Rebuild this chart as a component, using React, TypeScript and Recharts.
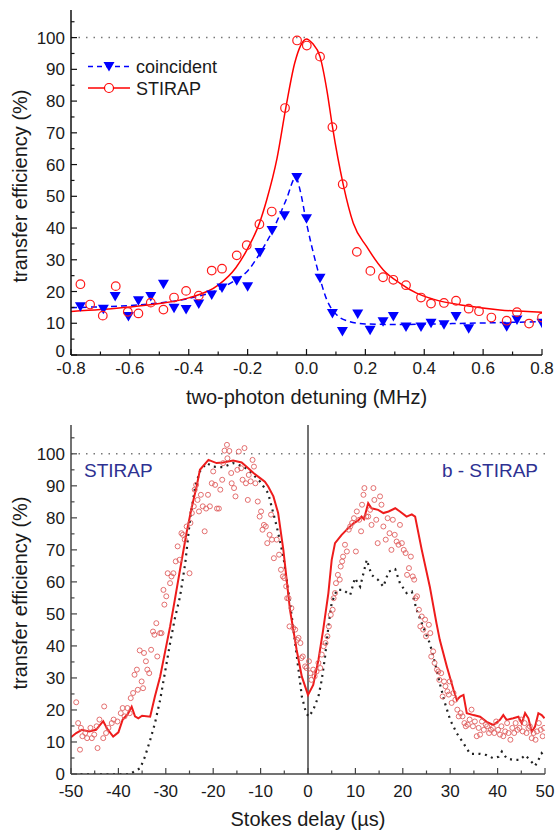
import React from "react";
import { ComposedChart, Line, Scatter, XAxis, YAxis, ReferenceLine, Legend } from "recharts";

const FONT = "'Liberation Sans', Arial, Helvetica, sans-serif";

// ---- top panel: transfer efficiency vs two-photon detuning (MHz)
const detuningTicks = [-0.8, -0.7, -0.6, -0.5, -0.4, -0.3, -0.2, -0.1, 0, 0.1, 0.2, 0.3, 0.4, 0.5, 0.6, 0.7, 0.8];
const efficiencyTicks = [0, 5, 10, 15, 20, 25, 30, 35, 40, 45, 50, 55, 60, 65, 70, 75, 80, 85, 90, 95, 100, 105];

const stirapPoints = [
  [-0.768, 22.3], [-0.735, 15.9], [-0.692, 12.4], [-0.648, 21.7], [-0.607, 13.6], [-0.571, 13.1],
  [-0.529, 16.5], [-0.486, 14.3], [-0.45, 18.1], [-0.409, 20.2], [-0.366, 18.7], [-0.322, 26.6],
  [-0.287, 27.2], [-0.237, 31.4], [-0.203, 34.6], [-0.16, 41.2], [-0.118, 45.2], [-0.073, 77.8],
  [-0.032, 99.1], [0.001, 97.5], [0.046, 94.0], [0.088, 71.8], [0.123, 53.8], [0.171, 32.5],
  [0.217, 26.5], [0.26, 24.5], [0.295, 23.7], [0.338, 22.0], [0.389, 18.1], [0.423, 16.2],
  [0.467, 16.4], [0.508, 17.1], [0.551, 14.6], [0.586, 13.8], [0.628, 11.8], [0.68, 10.8],
  [0.715, 13.5], [0.756, 9.9], [0.8, 11.8],
];

const coincidentPoints = [
  [-0.768, 15.2], [-0.69, 14.4], [-0.65, 18.4], [-0.605, 12.1], [-0.571, 17.1], [-0.529, 18.4],
  [-0.486, 22.3], [-0.45, 14.7], [-0.409, 14.3], [-0.366, 16.1], [-0.322, 18.9], [-0.287, 21.1],
  [-0.237, 23.4], [-0.2, 21.5], [-0.158, 32.3], [-0.117, 39.2], [-0.075, 43.9], [-0.033, 55.9],
  [0.0, 42.9], [0.046, 24.2], [0.088, 13.1], [0.122, 7.4], [0.174, 12.9], [0.216, 7.8],
  [0.26, 10.5], [0.295, 12.1], [0.338, 8.8], [0.389, 8.8], [0.423, 10.0], [0.467, 9.5],
  [0.508, 12.1], [0.551, 8.3], [0.68, 8.9], [0.715, 11.0], [0.8, 10.0],
];

const stirapFit = [
  [-0.8, 13.7], [-0.7, 14.3], [-0.6, 15.1], [-0.5, 16.2], [-0.4, 18.0], [-0.3, 22.0], [-0.24, 27.5],
  [-0.2, 33.5], [-0.16, 41.5], [-0.135, 48.9], [-0.1, 62], [-0.07, 78], [-0.04, 92], [-0.02, 97.5],
  [0, 99.6], [0.02, 98.2], [0.046, 94], [0.07, 83], [0.088, 72], [0.125, 53.6], [0.159, 41.5],
  [0.204, 34.2], [0.261, 26.8], [0.318, 22.6], [0.374, 19.5], [0.43, 17.6], [0.544, 15.5],
  [0.657, 14.2], [0.8, 13.5],
];

const coincidentFit = [
  [-0.8, 14.9], [-0.7, 15.2], [-0.6, 15.6], [-0.5, 16.4], [-0.4, 17.8], [-0.3, 20.6], [-0.24, 23.7],
  [-0.2, 26.5], [-0.16, 31.8], [-0.114, 39.4], [-0.069, 48.9], [-0.036, 56], [-0.022, 52], [0, 41.6],
  [0.035, 27.9], [0.069, 17.4], [0.103, 12.6], [0.148, 10.5], [0.2, 9.8], [0.3, 9.6], [0.4, 9.7],
  [0.5, 9.9], [0.6, 10.1], [0.7, 10.3], [0.8, 10.5],
];

// ---- bottom panel: transfer efficiency vs Stokes delay (µs)
const delayTicks = [-50, -45, -40, -35, -30, -25, -20, -15, -10, -5, 0, 5, 10, 15, 20, 25, 30, 35, 40, 45, 50];

const measuredPoints = [
  [-48.9, 22.4], [-48.5, 15.9], [-48.1, 7.6], [-47.9, 14.4], [-47.6, 11.8], [-47.0, 12.8], [-46.6, 11.2],
  [-45.9, 14.4], [-45.6, 11.2], [-45.1, 12.3], [-44.6, 14.9], [-44.4, 8.1], [-44.0, 17.0], [-43.2, 11.2],
  [-43.0, 21.1], [-42.6, 12.8], [-42.1, 14.4], [-41.4, 15.9], [-41.0, 17.0], [-40.2, 16.4], [-39.5, 19.0],
  [-39.1, 20.6], [-38.7, 18.0], [-38.1, 20.6], [-37.6, 19.0], [-37.4, 23.7], [-36.9, 25.3], [-36.6, 31.0],
  [-36.1, 32.6], [-35.9, 26.3], [-35.5, 38.6], [-35.1, 28.9], [-34.8, 26.8], [-34.6, 37.8], [-34.2, 35.2],
  [-33.9, 32.6], [-33.5, 31.5], [-33.1, 38.8], [-32.7, 44.5], [-32.4, 43.5], [-32.0, 47.1], [-31.8, 36.7],
  [-31.2, 44.0], [-30.9, 44.0], [-30.5, 57.5], [-30.3, 52.9], [-29.9, 55.5], [-29.6, 62.7], [-29.1, 59.6],
  [-28.8, 61.7], [-28.4, 62.7], [-27.9, 66.4], [-27.5, 71.1], [-27.1, 66.9], [-26.7, 75.2], [-26.4, 74.7],
  [-26.0, 73.2], [-25.6, 77.3], [-25.0, 62.7], [-24.8, 78.4], [-24.5, 81.5], [-24.1, 83.6], [-23.9, 88.8],
  [-23.6, 90.3], [-23.3, 85.6], [-23.0, 82.0], [-22.6, 87.2], [-22.2, 83.6], [-21.8, 75.8], [-21.5, 82.9],
  [-21.1, 87.2], [-20.7, 83.6], [-20.3, 90.8], [-20.0, 94.5], [-19.6, 90.3], [-19.2, 82.9], [-18.8, 82.9],
  [-18.5, 88.8], [-18.1, 91.9], [-17.9, 97.1], [-17.6, 101.0], [-17.1, 102.8], [-17.0, 98.6], [-16.6, 100.9],
  [-16.2, 94.0], [-16.1, 90.8], [-15.6, 89.3], [-15.3, 86.7], [-14.9, 95.0], [-14.6, 100.7], [-14.1, 95.5],
  [-13.8, 91.9], [-13.4, 101.8], [-13.1, 90.8], [-12.7, 85.6], [-12.5, 93.4], [-12.1, 91.4], [-11.7, 98.1],
  [-11.4, 96.0], [-11.1, 90.8], [-10.6, 85.1], [-10.2, 80.4], [-9.9, 82.0], [-9.6, 76.3], [-9.3, 77.8],
  [-8.9, 77.3], [-8.6, 72.1], [-8.1, 74.7], [-7.8, 81.0], [-7.6, 73.2], [-7.2, 67.4], [-6.6, 73.2],
  [-6.1, 68.5], [-5.7, 63.8], [-5.3, 61.7], [-5.0, 61.2], [-4.6, 58.6], [-4.4, 54.9], [-4.1, 54.9],
  [-3.9, 46.1], [-3.5, 51.8], [-3.1, 45.6], [-2.7, 45.1], [-2.3, 41.9], [-2.0, 42.5], [-1.6, 40.9],
  [-1.4, 36.2], [-1.1, 36.7], [-0.6, 33.6], [-0.3, 33.1], [0.2, 35.2], [0.5, 31.5], [0.7, 29.4],
  [1.1, 32.6], [1.4, 30.5], [1.8, 32.0], [2.2, 34.7], [2.6, 33.1], [2.9, 37.3], [3.3, 39.9],
  [3.7, 40.9], [4.1, 43.0], [4.4, 46.1], [4.8, 49.7], [5.2, 51.3], [5.4, 54.9], [5.7, 56.5],
  [5.9, 59.6], [6.3, 62.2], [6.7, 60.7], [6.9, 64.8], [7.2, 66.4], [7.4, 67.9], [7.8, 71.6],
  [8.2, 69.5], [8.6, 76.3], [8.9, 77.3], [9.3, 78.4], [9.7, 79.9], [10.1, 69.5], [10.3, 82.0],
  [10.8, 79.4], [11.2, 75.8], [11.4, 84.1], [11.7, 87.2], [11.9, 89.3], [12.3, 80.4], [12.7, 80.4],
  [13.1, 82.5], [13.4, 77.8], [13.8, 89.3], [14.0, 85.6], [14.4, 79.4], [14.7, 72.1], [15.2, 86.7],
  [15.5, 84.1], [15.9, 77.3], [16.4, 73.2], [16.8, 79.9], [17.2, 75.2], [17.6, 70.0], [17.9, 79.4],
  [18.3, 74.7], [18.7, 72.6], [19.1, 71.6], [19.4, 77.8], [19.8, 72.1], [20.2, 70.0], [20.6, 69.0],
  [20.9, 62.2], [21.3, 64.3], [21.7, 67.9], [22.1, 61.7], [22.4, 60.7], [22.7, 54.9], [23.0, 55.5],
  [23.4, 51.3], [23.7, 46.1], [24.0, 49.2], [24.3, 45.1], [24.7, 48.2], [24.9, 43.0], [25.5, 46.6],
  [25.8, 44.0], [26.0, 36.7], [26.4, 38.3], [26.7, 34.7], [27.2, 32.6], [27.5, 32.0], [27.7, 29.4],
  [28.1, 31.5], [28.4, 24.2], [28.7, 28.9], [29.0, 27.4], [29.4, 25.8], [29.7, 24.8], [29.9, 28.9],
  [30.3, 22.2], [30.7, 25.3], [31.1, 23.2], [31.5, 20.1], [31.8, 18.0], [32.2, 19.0], [32.6, 18.0],
  [33.0, 15.9], [33.3, 14.9], [33.7, 15.4], [34.1, 17.0], [34.5, 20.1], [34.8, 14.9], [35.2, 16.4],
  [35.6, 11.8], [36.0, 14.4], [36.3, 12.3], [36.7, 16.4], [37.1, 13.8], [37.5, 15.4], [37.8, 14.9],
  [38.2, 12.8], [38.6, 13.8], [39.0, 14.4], [39.3, 12.8], [39.7, 16.4], [40.1, 13.8], [40.5, 12.3],
  [40.8, 14.9], [41.2, 11.8], [41.6, 13.3], [42.0, 15.9], [42.3, 12.8], [42.7, 10.7], [43.1, 14.4],
  [43.5, 12.8], [43.8, 15.9], [44.2, 13.8], [44.6, 14.4], [45.0, 17.0], [45.3, 13.3], [45.7, 15.9],
  [46.1, 12.8], [46.5, 14.4], [46.8, 14.9], [47.2, 11.2], [47.6, 12.8], [48.0, 10.7], [48.3, 13.3],
  [48.7, 15.9], [49.1, 13.8], [49.5, 11.8], [49.8, 14.4],
];

const simulatedCurve = [
  [-50, 11.5], [-48.9, 12.8], [-47.7, 13.8], [-46.2, 13.3], [-44.7, 13.8], [-43.9, 15.3], [-43.2, 16.5],
  [-42.4, 14.2], [-41.1, 11.7], [-40.0, 13.0], [-39.1, 17.0], [-38.0, 18.8], [-37.2, 21.0], [-36.5, 18.0],
  [-35.8, 17.4], [-35.0, 18.2], [-33.3, 17.9], [-32.3, 24.2], [-31.2, 30.4], [-29.8, 40.8], [-29.1, 46],
  [-28.1, 54.4], [-27.0, 63.8], [-25.6, 75.5], [-24.5, 83.5], [-23.5, 89.8], [-22.8, 95], [-21.0, 98.1],
  [-19.3, 97.1], [-17.9, 97.3], [-15.8, 97.9], [-14.0, 97.3], [-12.6, 95.5], [-11.5, 94.0], [-10.1, 92.4],
  [-9.1, 91.3], [-8.4, 89.8], [-7.3, 86.7], [-6.3, 81.5], [-5.2, 70], [-3.8, 51.3], [-2.4, 38.8],
  [-1.3, 30.4], [0, 24.7], [1.1, 27.8], [2.2, 35.6], [3.2, 45], [4.3, 56.5], [5.0, 66.9], [5.7, 72.1],
  [7.1, 74.7], [8.5, 76.8], [9.6, 78.3], [10.6, 79.2], [11.3, 80.4], [11.8, 79.6], [12.7, 84.6],
  [13.4, 83.0], [14.8, 82.5], [15.9, 81.5], [17.0, 82.0], [18.4, 83.0], [19.4, 82.0], [20.8, 80.4],
  [21.9, 81.1], [22.6, 80.4], [24.0, 70.0], [25.7, 58.5], [27.1, 47.1], [27.8, 41.9], [29.3, 33.5],
  [30.7, 26.3], [31.4, 23.1], [32.1, 24.2], [32.8, 24.7], [33.5, 19.0], [34.9, 18.4], [36.3, 17.9],
  [37.7, 16.3], [39.1, 15.3], [40.5, 16.9], [41.2, 18.4], [41.9, 16.9], [43.3, 17.4], [44.4, 17.9],
  [45.1, 15.8], [45.8, 19.0], [46.5, 17.4], [47.2, 13.2], [47.9, 14.8], [48.6, 19.0], [49.3, 18.4],
  [49.9, 17.4],
];

const idealCurve = [
  [-48, 0], [-44, 0], [-40, 0], [-37.6, 0], [-35.4, 1.8], [-34.4, 5.4], [-33.3, 10.6], [-32.3, 15.8],
  [-31.2, 23.1], [-30.2, 31.5], [-29.1, 40.8], [-28.1, 48.5], [-27.0, 55.4], [-25.9, 65.8], [-24.9, 79.4],
  [-23.8, 89.8], [-22.8, 94.5], [-21.4, 97.1], [-20.0, 96.0], [-17.9, 95.8], [-15.8, 97.1], [-13.6, 96.0],
  [-11.9, 94.0], [-10.1, 91.3], [-8.4, 87.7], [-6.6, 77.3], [-5.2, 67.9], [-3.8, 53.5], [-2.7, 40.8],
  [-2.0, 32.5], [-1.3, 24.2], [-0.4, 19.0], [0.2, 17.9], [1.1, 20.0], [2.2, 24.2], [2.9, 29.4],
  [3.6, 36.7], [4.3, 46.0], [5.0, 53.5], [6.1, 57.5], [7.4, 57.5], [8.9, 55.9], [9.9, 61.2], [11.0, 58.5],
  [12.4, 66.9], [13.4, 62.2], [14.8, 60.6], [15.9, 58.5], [17.0, 63.2], [18.4, 64.0], [19.4, 59.6],
  [20.8, 56.5], [21.9, 57.0], [22.9, 51.3], [24.0, 47.1], [25.7, 40.8], [26.8, 34.6], [27.8, 28.3],
  [28.9, 22.1], [30.0, 16.9], [31.4, 12.7], [32.8, 9.6], [34.2, 6.3], [36.3, 6.3], [37.7, 5.9],
  [39.1, 4.9], [40.2, 5.4], [40.9, 7.0], [41.9, 4.9], [43.3, 4.4], [44.7, 4.4], [45.8, 5.9], [46.8, 4.4],
  [47.9, 2.5], [48.6, 4.4], [49.3, 6.5], [49.9, 5.4],
];

const toXY = (pts: number[][]) => pts.map(([x, y]) => ({ x, y }));

type Side = "bottom" | "top" | "left" | "right";

// inward ticks, long on majors, labels on majors only
function axisTick(side: Side, step: number, color: string, fmt?: (v: number) => string, gap = 19, zeroLift = 0) {
  return (props: any) => {
    const { x, y, payload } = props;
    const v = Number(payload.value);
    const major = Math.abs(Math.round(v / step) * step - v) < 1e-6;
    const len = major ? 6 : 3.5;
    let x2 = x;
    let y2 = y;
    if (side === "bottom") y2 = y - len;
    if (side === "top") y2 = y + len;
    if (side === "left") x2 = x + len;
    if (side === "right") x2 = x - len;
    let label = null;
    if (fmt && major) {
      label =
        side === "bottom" ? (
          <text x={x} y={y + gap} textAnchor="middle" fontSize={17} fontFamily={FONT} fill="#1a1a1a">
            {fmt(v)}
          </text>
        ) : (
          <text x={x - 6} y={y + 6 - (v === 0 ? zeroLift : 0)} textAnchor="end" fontSize={17} fontFamily={FONT} fill="#1a1a1a">
            {fmt(v)}
          </text>
        );
    }
    return (
      <g>
        <line x1={x} y1={y} x2={x2} y2={y2} stroke={color} strokeWidth={1.2} />
        {label}
      </g>
    );
  };
}

const hollowCircle = (r: number, stroke: string, sw: number) => (p: any) =>
  <circle cx={p.cx} cy={p.cy} r={r} fill="none" stroke={stroke} strokeWidth={sw} />;

const downTriangle = (p: any) => (
  <path d={`M${p.cx - 5.5},${p.cy - 4.5}L${p.cx + 5.5},${p.cy - 4.5}L${p.cx},${p.cy + 5}Z`} fill="#0000ff" />
);

const TopLegend = () => (
  <svg width={150} height={50} style={{ display: "block", overflow: "visible" }}>
    <line x1={8} y1={16.5} x2={50} y2={16.5} stroke="#0000ff" strokeWidth={1.5} strokeDasharray="5 4" />
    <path d="M23.5,12 L34.5,12 L29,21.5 Z" fill="#0000ff" />
    <text x={56} y={23} fontSize={18} fontFamily={FONT} fill="#1a1a1a">coincident</text>
    <line x1={8} y1={38} x2={50} y2={38} stroke="#ff0000" strokeWidth={1.5} />
    <circle cx={29} cy={38} r={4.5} fill="#fff" stroke="#ff0000" strokeWidth={1.2} />
    <text x={56} y={44.5} fontSize={18} fontFamily={FONT} fill="#1a1a1a">STIRAP</text>
  </svg>
);

const TOP_FRAME = "#111";
const BOTTOM_FRAME = "#444";

function DetuningChart() {
  const f1 = (v: number) => v.toFixed(1);
  const f0 = (v: number) => String(v);
  return (
    <ComposedChart width={557} height={420} margin={{ top: 10, right: 15, bottom: 25, left: 31 }}>
      <XAxis
        type="number" dataKey="x" domain={[-0.8, 0.8]} ticks={detuningTicks} interval={0}
        allowDataOverflow height={40} tickSize={0} tickMargin={0} tickLine={false}
        axisLine={{ stroke: TOP_FRAME, strokeWidth: 1.5 }} tick={axisTick("bottom", 0.2, TOP_FRAME, f1, 18.5)}
      />
      <XAxis
        xAxisId="top" orientation="top" type="number" dataKey="x" domain={[-0.8, 0.8]} ticks={detuningTicks}
        interval={0} allowDataOverflow height={0} tickSize={0} tickMargin={0} tickLine={false}
        axisLine={{ stroke: TOP_FRAME, strokeWidth: 1.5 }} tick={axisTick("top", 0.2, TOP_FRAME)}
      />
      <YAxis
        type="number" dataKey="y" domain={[0, 108.7]} ticks={efficiencyTicks} interval={0} allowDataOverflow
        width={40} tickSize={0} tickMargin={0} tickLine={false}
        axisLine={{ stroke: TOP_FRAME, strokeWidth: 1.5 }} tick={axisTick("left", 10, TOP_FRAME, f0, 0, 4)}
      />
      <YAxis
        yAxisId="right" orientation="right" type="number" dataKey="y" domain={[0, 108.7]} ticks={efficiencyTicks}
        interval={0} allowDataOverflow width={0} tickSize={0} tickMargin={0} tickLine={false}
        axisLine={{ stroke: TOP_FRAME, strokeWidth: 1.5 }} tick={axisTick("right", 10, TOP_FRAME)}
      />
      <ReferenceLine y={100} stroke="#777" strokeWidth={1.5} strokeDasharray="1.5 6" />
      {/* mirrored axes share the same domain, so this curve sits on them */}
      <Line data={toXY(coincidentFit)} xAxisId="top" yAxisId="right" dataKey="y" type="monotone" stroke="#0000ff"
        strokeWidth={1.5} strokeDasharray="6 4" dot={false} isAnimationActive={false} />
      <Line data={toXY(stirapFit)} dataKey="y" type="monotone" stroke="#ff0000" strokeWidth={1.5}
        dot={false} isAnimationActive={false} />
      <Scatter data={toXY(coincidentPoints)} dataKey="y" shape={downTriangle} isAnimationActive={false} />
      <Scatter data={toXY(stirapPoints)} dataKey="y" shape={hollowCircle(4.3, "#ff1a1a", 1.2)} isAnimationActive={false} />
      <Legend layout="horizontal" verticalAlign="middle" align="center" content={TopLegend}
        wrapperStyle={{ position: "absolute", left: 80, top: 50, width: 150, height: 50 }} />
    </ComposedChart>
  );
}

function DelayChart() {
  const f0 = (v: number) => String(v);
  return (
    <ComposedChart width={557} height={426} margin={{ top: 15, right: 12, bottom: 22, left: 31 }}>
      <XAxis
        type="number" dataKey="x" domain={[-50, 50]} ticks={delayTicks} interval={0}
        allowDataOverflow height={40} tickSize={0} tickMargin={0} tickLine={false}
        axisLine={{ stroke: BOTTOM_FRAME, strokeWidth: 1.5 }} tick={axisTick("bottom", 10, BOTTOM_FRAME, f0, 23)}
      />
      <XAxis
        xAxisId="top" orientation="top" type="number" dataKey="x" domain={[-50, 50]} ticks={delayTicks}
        interval={0} allowDataOverflow height={0} tickSize={0} tickMargin={0} tickLine={false}
        axisLine={{ stroke: BOTTOM_FRAME, strokeWidth: 1.5 }} tick={axisTick("top", 10, BOTTOM_FRAME)}
      />
      <YAxis
        type="number" dataKey="y" domain={[0, 109]} ticks={efficiencyTicks} interval={0} allowDataOverflow
        width={40} tickSize={0} tickMargin={0} tickLine={false}
        axisLine={{ stroke: BOTTOM_FRAME, strokeWidth: 1.5 }} tick={axisTick("left", 10, BOTTOM_FRAME, f0)}
      />
      <YAxis
        yAxisId="right" orientation="right" type="number" dataKey="y" domain={[0, 109]} ticks={efficiencyTicks}
        interval={0} allowDataOverflow width={0} tickSize={0} tickMargin={0} tickLine={false}
        axisLine={{ stroke: BOTTOM_FRAME, strokeWidth: 1.5 }} tick={axisTick("right", 10, BOTTOM_FRAME)}
      />
      <ReferenceLine y={100} stroke="#777" strokeWidth={1.5} strokeDasharray="1.5 6" />
      <ReferenceLine x={0} stroke={BOTTOM_FRAME} strokeWidth={1.5} />
      <Scatter data={toXY(measuredPoints)} dataKey="y" shape={hollowCircle(2.5, "#e06060", 0.9)} isAnimationActive={false} />
      <Line data={toXY(idealCurve)} xAxisId="top" yAxisId="right" dataKey="y" type="linear" stroke="#222"
        strokeWidth={2.2} strokeDasharray="2 4.5" dot={false} isAnimationActive={false} />
      <Line data={toXY(simulatedCurve)} dataKey="y" type="linear" stroke="#ee1c1c" strokeWidth={2}
        dot={false} isAnimationActive={false} />
    </ComposedChart>
  );
}

export default function App() {
  return (
    <div style={{ position: "absolute", left: 0, top: 0, width: 557, height: 836, background: "#fff" }}>
      <div style={{ position: "absolute", left: 0, top: 0 }}>
        <DetuningChart />
      </div>
      <div style={{ position: "absolute", left: 0, top: 410 }}>
        <DelayChart />
      </div>
      <svg width={557} height={836} style={{ position: "absolute", left: 0, top: 0, pointerEvents: "none" }}>
        <g fontFamily={FONT} fill="#1a1a1a" fontSize={20}>
          <text x={27} y={186} textAnchor="middle" transform="rotate(-90 27 186)">transfer efficiency (%)</text>
          <text x={306.5} y={404} textAnchor="middle">two-photon detuning (MHz)</text>
          <text x={27} y={593} textAnchor="middle" transform="rotate(-90 27 593)">transfer efficiency (%)</text>
          <text x={308} y={826} textAnchor="middle">Stokes delay (µs)</text>
        </g>
        <g fontFamily={FONT} fill="#2e3192" fontSize={19}>
          <text x={84} y={477}>STIRAP</text>
          <text x={538} y={477} textAnchor="end">b - STIRAP</text>
        </g>
      </svg>
    </div>
  );
}
